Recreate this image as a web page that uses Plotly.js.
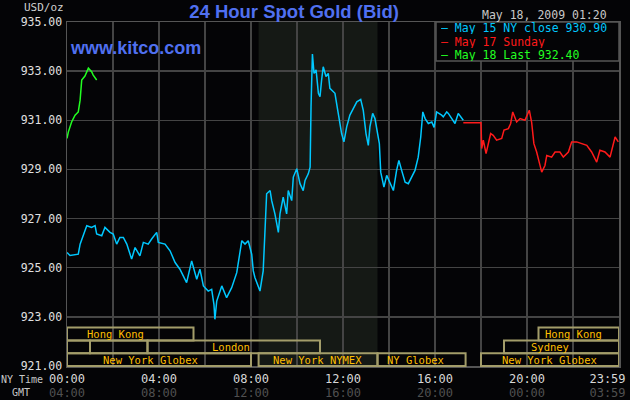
<!DOCTYPE html>
<html>
<head>
<meta charset="utf-8">
<script src="https://cdn.plot.ly/plotly-3.0.1.min.js"></script>
<style>
body { margin: 0; background: #040406; }
#goldChart { width: 630px; height: 400px; }
</style>
</head>
<body>
<div id="goldChart"></div>
<script>

// hours since 00:00 NY time, price in USD/oz
var closeHours = [0.00,0.13,0.49,0.57,0.78,0.86,1.07,1.22,1.29,1.51,1.65,1.87,2.01,2.16,2.30,2.45,2.60,2.81,2.96,3.17,3.32,3.53,3.68,3.90,3.97,4.26,4.48,4.70,4.91,5.20,5.42,5.64,5.78,5.93,6.14,6.29,6.39,6.43,6.51,6.73,6.94,7.16,7.38,7.60,7.74,7.88,8.03,8.10,8.17,8.39,8.53,8.61,8.68,8.83,8.90,9.04,9.19,9.26,9.40,9.55,9.62,9.77,9.84,9.99,10.13,10.27,10.35,10.49,10.57,10.61,10.67,10.74,10.83,10.93,11.00,11.07,11.14,11.26,11.36,11.43,11.65,11.77,11.87,11.94,12.04,12.16,12.30,12.45,12.60,12.77,12.88,13.00,13.10,13.17,13.29,13.39,13.49,13.58,13.64,13.78,13.90,14.04,14.19,14.33,14.43,14.55,14.70,14.84,14.99,15.13,15.27,15.38,15.47,15.57,15.71,15.86,15.96,16.07,16.29,16.36,16.51,16.58,16.73,16.87,17.01,17.23];
var closePrice = [925.62,925.50,925.55,925.96,926.50,926.71,926.64,926.71,926.37,926.30,926.64,926.44,926.37,925.96,926.23,926.23,925.96,925.35,925.82,925.48,926.03,925.96,926.17,926.44,926.03,925.96,925.69,925.21,924.94,924.39,925.28,924.53,924.94,924.26,924.05,924.12,923.50,922.90,923.64,924.26,923.78,924.19,924.80,926.10,925.96,926.10,925.55,924.87,924.60,924.05,924.87,926.50,928.01,928.14,927.73,927.19,926.44,927.19,927.87,927.19,928.14,927.73,928.69,929.03,928.42,928.14,928.55,928.82,929.09,931.55,933.70,932.91,933.05,932.10,931.96,932.64,933.18,932.78,932.91,932.30,932.10,931.41,930.87,930.46,930.12,930.73,931.21,931.48,931.75,931.85,931.41,930.46,929.98,930.73,931.28,931.07,930.60,930.05,928.89,928.28,928.76,928.42,928.14,928.96,929.37,928.96,928.48,928.42,928.69,928.96,929.50,930.32,931.34,931.07,930.87,930.93,930.71,931.34,931.21,931.14,931.34,931.28,931.07,930.87,931.28,931.00];

var sundayHours = [17.23,18.00,18.03,18.10,18.22,18.32,18.42,18.53,18.68,18.90,19.00,19.19,19.29,19.38,19.55,19.70,19.91,20.10,20.20,20.30,20.42,20.53,20.64,20.78,20.86,21.07,21.22,21.43,21.58,21.80,21.94,22.16,22.38,22.60,22.81,23.03,23.17,23.39,23.61,23.83,23.97];
var sundayPrice = [930.90,930.90,929.85,930.19,929.64,930.05,930.46,930.39,930.19,930.26,930.60,930.66,930.87,931.34,930.93,931.07,931.00,931.41,930.93,930.05,929.71,929.30,928.89,929.16,929.57,929.50,929.71,929.71,929.50,929.71,930.12,930.12,930.05,929.98,929.71,929.30,929.78,929.71,929.50,930.32,930.12];

var lastHours = [0.00,0.06,0.20,0.35,0.49,0.57,0.64,0.78,0.93,1.07,1.14,1.29];
var lastPrice = [930.26,930.53,930.93,931.21,931.34,931.82,932.64,932.80,933.12,932.98,932.84,932.64];

var seriesLabels = ["May 15 NY close 930.90", "May 17 Sunday", "May 18 Last 932.40"];
var seriesColors = ["#00c8ff", "#ff1a1a", "#22ff22"];

var nyTicks = ["00:00", "04:00", "08:00", "12:00", "16:00", "20:00", "23:59"];
var gmtTicks = ["04:00", "08:00", "12:00", "16:00", "20:00", "00:00", "03:59"];
var tickHours = [0, 4, 8, 12, 16, 20, 23.5];

var nymexOpen = 8.33;
var nymexClose = 13.5;

// trading sessions, row 0 is the bottom strip
var sessionNames = ["Hong Kong", "", "", "London", "New York Globex", "New York NYMEX", "NY Globex", "New York Globex", "Sydney", "Hong Kong"];
var sessionRow = [2, 1, 1, 1, 0, 0, 0, 0, 1, 2];
var sessionOpen = [0, 0, 1, 3.5, 0, 8.33, 13.5, 18, 19, 20.5];
var sessionClose = [5.5, 1, 3.5, 11, 8, 13.5, 17.33, 24, 24, 24];
var sessionLabelAt = [2.09, 0, 0, 7.13, 3.61, 10.91, 15.17, 20.96, 20.98, 22.04];

var mono = "DejaVu Sans Mono";
var sans = "Liberation Sans, Arial, sans-serif";

function drawChart() {
	var traces = [
		{x: closeHours, y: closePrice, mode: 'lines', line: {color: seriesColors[0], width: 1.5}},
		{x: sundayHours, y: sundayPrice, mode: 'lines', line: {color: seriesColors[1], width: 1.5}},
		{x: lastHours, y: lastPrice, mode: 'lines', line: {color: seriesColors[2], width: 1.5}},
		// empty trace so the GMT axis gets drawn
		{x: [], y: [], xaxis: 'x2', mode: 'lines'}
	];

	var rowH = 0.0372;
	var shapes = [{
		type: 'rect', xref: 'x', yref: 'paper', x0: nymexOpen, x1: nymexClose, y0: 0, y1: 1,
		fillcolor: '#151915', line: {width: 0}, layer: 'below'
	}];
	var annotations = [];

	for (let i = 0; i < sessionNames.length; i++) {
		shapes.push({
			type: 'rect', xref: 'x', yref: 'paper',
			x0: sessionOpen[i], x1: sessionClose[i],
			y0: sessionRow[i] * rowH, y1: (sessionRow[i] + 1) * rowH,
			line: {color: '#a39d6a', width: 2}, layer: 'above'
		});
		if (sessionNames[i] != "") {
			annotations.push({
				xref: 'x', yref: 'paper', x: sessionLabelAt[i], y: (sessionRow[i] + 0.5) * rowH,
				text: sessionNames[i], showarrow: false, xanchor: 'center', yanchor: 'middle',
				font: {family: mono, size: 10.5, color: '#ffbf00'}
			});
		}
	}

	// legend box in the top right corner
	shapes.push({
		type: 'rect', xref: 'paper', yref: 'paper', x0: 0.6685, x1: 1, y0: 0.8866, y1: 1,
		fillcolor: '#040406', line: {color: '#555555', width: 1.5}, layer: 'above'
	});
	var legendY = [0.9826, 0.9433, 0.904];
	for (let i = 0; i < seriesLabels.length; i++) {
		annotations.push({
			xref: 'paper', yref: 'paper', x: 0.6735, y: legendY[i], height: 12,
			text: "\u2013 " + seriesLabels[i], showarrow: false, xanchor: 'left', yanchor: 'middle',
			font: {family: mono, size: 11.5, color: seriesColors[i]}
		});
	}

	annotations.push(
		{xref: 'paper', yref: 'paper', x: 0.982, y: 1.0203, text: "May 18, 2009 01:20", showarrow: false,
			xanchor: 'right', yanchor: 'middle', font: {family: mono, size: 11.5, color: '#c8c8c8'}},
		{xref: 'paper', yref: 'paper', x: -0.002, y: 1.042, text: "USD/oz", showarrow: false,
			xanchor: 'right', yanchor: 'middle', font: {family: mono, size: 11, color: '#d0d0d0'}},
		{xref: 'paper', yref: 'paper', x: 0.0018, y: 0.9244, text: "www.kitco.com", showarrow: false,
			xanchor: 'left', yanchor: 'middle', font: {family: sans, size: 18, weight: 'bold', color: '#5070f0'}},
		{xref: 'paper', yref: 'paper', x: -0.0400, y: -0.0378, text: "NY Time", showarrow: false,
			xanchor: 'right', yanchor: 'middle', font: {family: mono, size: 10, color: '#c8c8c8'}},
		{xref: 'paper', yref: 'paper', x: -0.0833, y: -0.0756, text: "GMT", showarrow: false,
			xanchor: 'center', yanchor: 'middle', font: {family: mono, size: 10, color: '#c8c8c8'}}
	);

	var layout = {
		width: 630,
		height: 400,
		margin: {l: 67, r: 11, t: 22, b: 34},
		paper_bgcolor: '#040406',
		plot_bgcolor: '#040406',
		showlegend: false,
		title: {
			text: "24 Hour Spot Gold (Bid)",
			x: 0.4667, xanchor: 'center', y: 0.97, yanchor: 'middle',
			font: {family: sans, size: 18.5, weight: 'bold', color: '#5070f0'}
		},
		xaxis: {
			range: [0, 24],
			tickvals: tickHours,
			ticktext: nyTicks,
			showgrid: false,
			minor: {tick0: 0, dtick: 2, showgrid: true, gridcolor: '#444444', gridwidth: 1.5},
			zeroline: false,
			showline: true, mirror: true, linecolor: '#555555', linewidth: 1.5,
			ticks: '',
			ticklabelstandoff: 1,
			tickfont: {family: mono, size: 12, color: '#d8d8d8'}
		},
		xaxis2: {
			overlaying: 'x',
			anchor: 'y',
			side: 'bottom',
			range: [0, 24],
			tickvals: tickHours,
			ticktext: gmtTicks,
			showgrid: false,
			zeroline: false,
			showline: false,
			ticks: '',
			ticklabelstandoff: 18,
			tickfont: {family: mono, size: 12, color: '#505050'}
		},
		yaxis: {
			range: [921, 935],
			dtick: 2,
			tick0: 921,
			tickformat: '.2f',
			gridcolor: '#444444', gridwidth: 1.5,
			zeroline: false,
			showline: true, mirror: true, linecolor: '#555555', linewidth: 1.5,
			ticks: '',
			ticklabelstandoff: 1,
			tickfont: {family: mono, size: 11.5, color: '#e0e0e0'}
		},
		shapes: shapes,
		annotations: annotations
	};

	Plotly.newPlot('goldChart', traces, layout, {staticPlot: true, displayModeBar: false});
}

drawChart();

</script>
</body>
</html>
